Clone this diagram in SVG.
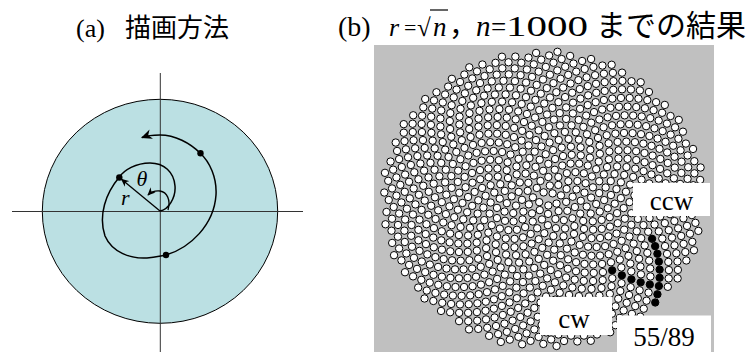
<svg xmlns="http://www.w3.org/2000/svg" width="753" height="352" viewBox="0 0 753 352">
<style>
.ttl{font-family:"Liberation Serif","Noto Sans CJK JP",serif;fill:#000}
.jp{font-family:"Noto Sans CJK JP","Liberation Serif",sans-serif;fill:#000}
.it{font-style:italic}
.lbl{font-family:"Liberation Serif",serif;font-size:27px;text-anchor:middle;fill:#000}
.spiral{fill:none;stroke:#000;stroke-width:1.5}
.axis{stroke:#333;stroke-width:1}
.p,.q{stroke:#000;stroke-width:1}
.p{fill:#fff;
--n:calc(var(--h)*100 + var(--t)*10 + var(--j) + 1);
transform:translate(calc(cos(var(--n)*137.50776deg)*sqrt(var(--n))*5.1px),calc(sin(var(--n)*137.50776deg)*sqrt(var(--n))*4.7px));}
.q{fill:#000;
transform:translate(calc(cos(var(--m)*137.50776deg)*sqrt(var(--m))*5.1px),calc(sin(var(--m)*137.50776deg)*sqrt(var(--m))*4.7px));}
.p:nth-child(1){--j:0}.p:nth-child(2){--j:1}.p:nth-child(3){--j:2}.p:nth-child(4){--j:3}.p:nth-child(5){--j:4}
.p:nth-child(6){--j:5}.p:nth-child(7){--j:6}.p:nth-child(8){--j:7}.p:nth-child(9){--j:8}.p:nth-child(10){--j:9}
</style>
<defs>
<marker id="ah" viewBox="0 0 10 10" refX="9" refY="5" markerWidth="11" markerHeight="11" markerUnits="userSpaceOnUse" orient="auto">
<path d="M0,0.5 L10,5 L0,9.5 L3,5 Z" fill="#000"/>
</marker>
<marker id="ahs" viewBox="0 0 10 10" refX="9" refY="5" markerWidth="8" markerHeight="8" markerUnits="userSpaceOnUse" orient="auto">
<path d="M0,0.5 L10,5 L0,9.5 L3,5 Z" fill="#000"/>
</marker>
<g id="ten"><circle class="p" r="3.7"/><circle class="p" r="3.7"/><circle class="p" r="3.7"/><circle class="p" r="3.7"/><circle class="p" r="3.7"/><circle class="p" r="3.7"/><circle class="p" r="3.7"/><circle class="p" r="3.7"/><circle class="p" r="3.7"/><circle class="p" r="3.7"/></g>
<g id="hun"><use href="#ten" style="--t:0"/><use href="#ten" style="--t:1"/><use href="#ten" style="--t:2"/><use href="#ten" style="--t:3"/><use href="#ten" style="--t:4"/><use href="#ten" style="--t:5"/><use href="#ten" style="--t:6"/><use href="#ten" style="--t:7"/><use href="#ten" style="--t:8"/><use href="#ten" style="--t:9"/></g>
</defs>

<g id="title-a">
<text class="ttl" x="76" y="37" font-size="26">(a)</text>
<text class="jp" x="125" y="37" font-size="26">描画方法</text>
</g>

<g id="diagram-a">
<ellipse cx="160" cy="211.3" rx="117.7" ry="112" fill="#bbe0e3" stroke="#000" stroke-width="1"/>
<line class="axis" x1="12" y1="211.5" x2="303" y2="211.5"/>
<line class="axis" x1="160.3" y1="73" x2="160.3" y2="352"/>
<path class="spiral" d="M160,211 C168,210 176,198 175,186 C174,172 164,163 150,163 C136,163 124,170 119,177.5 C106,193 98,215 105,236 C112,252 130,259 147,258 C155,257.5 160,256 166,255 C190,248 214,225 216,195 C217,178 210,162 200,153 C190,143 175,135 160,135 C152,135 146,136 142,137.5" marker-end="url(#ah)"/>
<line x1="160" y1="211" x2="121.5" y2="179.3" stroke="#000" stroke-width="1.3" marker-end="url(#ahs)"/>
<path d="M168,210 C171,200 167,192 160,191 C155,190.5 151,192 148,195" fill="none" stroke="#000" stroke-width="1.3" marker-end="url(#ahs)"/>
<circle cx="119.3" cy="177.5" r="3.2" fill="#000"/>
<circle cx="166" cy="255" r="3.2" fill="#000"/>
<circle cx="200.5" cy="153.3" r="3.2" fill="#000"/>
<text class="ttl it" x="121" y="205" font-size="22">r</text>
<text class="ttl it" x="136.5" y="186" font-size="22">θ</text>
</g>

<g id="title-b">
<text class="ttl" x="338" y="36" font-size="28">(b)</text>
<text class="ttl it" x="389" y="36" font-size="26">r</text>
<text class="ttl" x="404" y="35" font-size="22">=</text>
<text class="ttl" x="417" y="36" font-size="25">√</text>
<line x1="430" y1="10" x2="448" y2="10" stroke="#000" stroke-width="1.2"/>
<text class="ttl it" x="433" y="36" font-size="27">n</text>
<text class="jp" x="449" y="36" font-size="28">，</text>
<text class="ttl it" x="476" y="36" font-size="29">n</text>
<text class="ttl" x="491" y="36" font-size="27">=</text>
<text class="ttl" x="506" y="36" font-size="30" textLength="82" lengthAdjust="spacingAndGlyphs">1000</text>
<text class="jp" x="596" y="36" font-size="30">までの結果</text>
</g>

<g id="panel-b">
<rect x="374" y="45" width="340" height="307" fill="#c0c0c0"/>
<g id="pattern" transform="translate(543,199)">
<use href="#hun" style="--h:0"/><use href="#hun" style="--h:1"/><use href="#hun" style="--h:2"/><use href="#hun" style="--h:3"/><use href="#hun" style="--h:4"/><use href="#hun" style="--h:5"/><use href="#hun" style="--h:6"/><use href="#hun" style="--h:7"/><use href="#hun" style="--h:8"/><use href="#hun" style="--h:9"/>
<g id="ccw-dots">
<circle class="q" r="3.3" style="--m:529"/><circle class="q" r="3.3" style="--m:584"/><circle class="q" r="3.3" style="--m:639"/><circle class="q" r="3.3" style="--m:694"/><circle class="q" r="3.3" style="--m:749"/><circle class="q" r="3.3" style="--m:804"/><circle class="q" r="3.3" style="--m:859"/><circle class="q" r="3.3" style="--m:914"/><circle class="q" r="3.3" style="--m:969"/>
</g>
<g id="cw-dots">
<circle class="q" r="3.3" style="--m:770"/><circle class="q" r="3.3" style="--m:681"/><circle class="q" r="3.3" style="--m:592"/><circle class="q" r="3.3" style="--m:503"/><circle class="q" r="3.3" style="--m:414"/>
</g>
</g>
<g id="label-ccw"><rect x="633" y="183" width="77" height="33" fill="#fff"/><text class="lbl" x="671.5" y="210">ccw</text></g>
<g id="label-cw"><rect x="540" y="297" width="72" height="38" fill="#fff"/><text class="lbl" x="574" y="328">cw</text></g>
<g id="label-5589"><rect x="617" y="315.5" width="94" height="36.5" fill="#fff"/><text class="lbl" x="664" y="346">55/89</text></g>
</g>
</svg>
